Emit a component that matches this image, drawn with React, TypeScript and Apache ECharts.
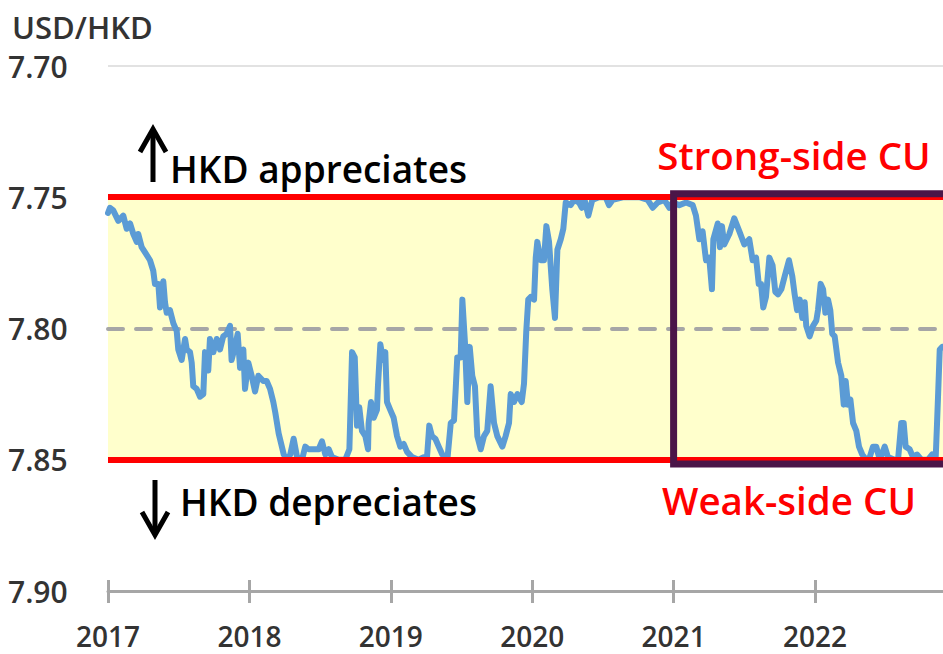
import React, { useEffect, useRef } from "react";
import * as echarts from "echarts";

// Time of each observation, in years since 1 Jan 2017
const yearsSince2017 = [
  0.000, 0.014, 0.037, 0.073, 0.108, 0.132, 0.156, 0.179, 0.203, 0.214,
  0.238, 0.262, 0.297, 0.320, 0.332, 0.356, 0.368, 0.391, 0.403, 0.415,
  0.438, 0.462, 0.486, 0.497, 0.521, 0.545, 0.557, 0.580, 0.592, 0.603,
  0.627, 0.651, 0.674, 0.686, 0.709, 0.721, 0.745, 0.769, 0.792, 0.815,
  0.839, 0.863, 0.874, 0.898, 0.917, 0.934, 0.957, 0.969, 0.992, 1.016,
  1.040, 1.063, 1.098, 1.122, 1.146, 1.169, 1.183, 1.207, 1.243, 1.266,
  1.289, 1.313, 1.337, 1.372, 1.395, 1.419, 1.455, 1.490, 1.513, 1.537,
  1.561, 1.584, 1.632, 1.678, 1.707, 1.726, 1.745, 1.761, 1.777, 1.796,
  1.820, 1.839, 1.843, 1.860, 1.879, 1.902, 1.909, 1.926, 1.945, 1.961,
  1.973, 1.996, 2.020, 2.044, 2.067, 2.091, 2.115, 2.150, 2.197, 2.233,
  2.256, 2.272, 2.291, 2.315, 2.339, 2.364, 2.400, 2.424, 2.447, 2.459,
  2.470, 2.494, 2.506, 2.525, 2.541, 2.558, 2.576, 2.595, 2.612, 2.636,
  2.659, 2.682, 2.706, 2.730, 2.753, 2.789, 2.812, 2.836, 2.848, 2.871,
  2.895, 2.926, 2.942, 2.958, 2.972, 2.989, 3.013, 3.025, 3.036, 3.060,
  3.083, 3.100, 3.119, 3.142, 3.161, 3.178, 3.202, 3.220, 3.237, 3.272,
  3.296, 3.331, 3.350, 3.366, 3.397, 3.425, 3.472, 3.520, 3.543, 3.569,
  3.640, 3.757, 3.817, 3.852, 3.888, 3.934, 3.970, 3.993, 4.040, 4.088,
  4.135, 4.158, 4.182, 4.205, 4.229, 4.252, 4.271, 4.281, 4.312, 4.328,
  4.342, 4.358, 4.394, 4.429, 4.465, 4.500, 4.535, 4.559, 4.583, 4.602,
  4.618, 4.634, 4.653, 4.677, 4.700, 4.719, 4.738, 4.762, 4.786, 4.816,
  4.839, 4.856, 4.873, 4.892, 4.910, 4.927, 4.938, 4.962, 4.986, 5.009,
  5.021, 5.040, 5.057, 5.073, 5.092, 5.108, 5.122, 5.139, 5.163, 5.186,
  5.203, 5.217, 5.233, 5.250, 5.269, 5.292, 5.311, 5.334, 5.363, 5.387,
  5.410, 5.433, 5.458, 5.493, 5.516, 5.564, 5.587, 5.610, 5.627, 5.641,
  5.669, 5.693, 5.721, 5.752, 5.799, 5.829, 5.853, 5.863, 5.872, 5.882,
  5.900,
];

// USD/HKD spot rate
const usdhkd = [
  7.756, 7.754, 7.755, 7.759, 7.757, 7.762, 7.760, 7.764, 7.767, 7.764,
  7.769, 7.771, 7.774, 7.778, 7.783, 7.783, 7.792, 7.782, 7.790, 7.794,
  7.793, 7.798, 7.801, 7.808, 7.812, 7.804, 7.808, 7.809, 7.813, 7.822,
  7.823, 7.826, 7.825, 7.809, 7.816, 7.804, 7.809, 7.804, 7.808, 7.803,
  7.802, 7.799, 7.812, 7.807, 7.802, 7.815, 7.808, 7.823, 7.813, 7.818,
  7.824, 7.818, 7.820, 7.820, 7.823, 7.828, 7.832, 7.840, 7.848, 7.850,
  7.848, 7.842, 7.849, 7.850, 7.845, 7.846, 7.846, 7.846, 7.843, 7.848,
  7.846, 7.849, 7.850, 7.850, 7.846, 7.809, 7.811, 7.837, 7.830, 7.839,
  7.841, 7.846, 7.836, 7.828, 7.834, 7.831, 7.822, 7.806, 7.812, 7.809,
  7.828, 7.831, 7.834, 7.841, 7.845, 7.844, 7.847, 7.849, 7.850, 7.849,
  7.849, 7.837, 7.841, 7.842, 7.845, 7.848, 7.850, 7.836, 7.835, 7.823,
  7.811, 7.811, 7.789, 7.806, 7.828, 7.807, 7.818, 7.822, 7.841, 7.846,
  7.841, 7.839, 7.822, 7.836, 7.841, 7.845, 7.841, 7.836, 7.825, 7.828,
  7.825, 7.828, 7.821, 7.801, 7.789, 7.788, 7.789, 7.773, 7.767, 7.774,
  7.774, 7.761, 7.767, 7.785, 7.796, 7.770, 7.766, 7.762, 7.752, 7.753,
  7.751, 7.752, 7.754, 7.750, 7.757, 7.751, 7.750, 7.750, 7.753, 7.751,
  7.750, 7.750, 7.751, 7.754, 7.752, 7.751, 7.754, 7.752, 7.753, 7.752,
  7.753, 7.757, 7.766, 7.763, 7.774, 7.773, 7.785, 7.766, 7.760, 7.769,
  7.761, 7.768, 7.764, 7.758, 7.763, 7.768, 7.766, 7.774, 7.773, 7.783,
  7.783, 7.792, 7.788, 7.773, 7.776, 7.786, 7.787, 7.785, 7.780, 7.774,
  7.780, 7.787, 7.793, 7.789, 7.796, 7.790, 7.799, 7.803, 7.799, 7.797,
  7.793, 7.783, 7.785, 7.794, 7.789, 7.793, 7.802, 7.803, 7.813, 7.818,
  7.829, 7.820, 7.829, 7.827, 7.836, 7.839, 7.845, 7.848, 7.850, 7.849,
  7.845, 7.845, 7.850, 7.845, 7.849, 7.850, 7.850, 7.836, 7.836, 7.845,
  7.846, 7.849, 7.848, 7.850, 7.850, 7.848, 7.850, 7.836, 7.823, 7.808,
  7.807,
];

const baseYear = 2017;
const lastLabelYear = 2022;
const xMaxYear = 2023.2;
const yMin = 7.7;
const yMax = 7.9;
const yStep = 0.05;
const strongSideCU = 7.75;
const weakSideCU = 7.85;
const midRate = 7.8;
const boxStartYear = 2021;
const boxTopRate = 7.7487;
const boxBottomRate = 7.8516;

const FONT = '"Open Sans", "Noto Sans", sans-serif';

export default function App() {
  const ref = useRef<HTMLDivElement>(null);

  useEffect(() => {
    if (!ref.current) return;
    const chart = echarts.init(ref.current, null, { renderer: "svg" });
    const data = yearsSince2017.map((d, i) => [baseYear + d, usdhkd[i]]);

    const xCommon = {
      type: "value" as const,
      min: baseYear,
      max: xMaxYear,
      interval: 1,
      position: "bottom" as const,
      splitLine: { show: false },
    };

    chart.setOption({
      animation: false,
      backgroundColor: "#ffffff",
      grid: { left: 108, top: 66, width: 876.7, height: 525, containLabel: false },
      xAxis: [
        {
          ...xCommon,
          axisLine: { show: true, onZero: false, lineStyle: { color: "#a6a6a6", width: 3 } },
          axisTick: { show: true, length: 12, lineStyle: { color: "#a6a6a6", width: 3 } },
          axisLabel: {
            show: true,
            margin: 45,
            verticalAlign: "middle",
            fontFamily: FONT,
            fontSize: 28,
            fontWeight: 600,
            color: "#333333",
            formatter: (v: number) =>
              Number.isInteger(v) && v <= lastLabelYear ? String(v) : "",
          },
        },
        {
          ...xCommon,
          axisLine: { show: false, onZero: false },
          axisTick: { show: true, inside: true, length: 11, lineStyle: { color: "#a6a6a6", width: 3 } },
          axisLabel: { show: false },
        },
      ],
      yAxis: {
        type: "value",
        inverse: true,
        min: yMin,
        max: yMax,
        interval: yStep,
        axisLine: { show: false },
        axisTick: { show: false },
        splitLine: { show: false },
        axisLabel: {
          margin: 100,
          align: "left",
          fontFamily: FONT,
          fontSize: 30,
          fontWeight: 600,
          color: "#333333",
          formatter: (v: number) => v.toFixed(2),
        },
      },
      series: [
        {
          type: "line",
          name: "band",
          data: [],
          silent: true,
          markArea: {
            silent: true,
            z: 1,
            itemStyle: { color: "#ffffcc" },
            data: [[{ yAxis: strongSideCU }, { yAxis: weakSideCU }]],
          },
          markLine: {
            silent: true,
            z: 1.5,
            symbol: "none",
            label: { show: false },
            data: [
              { yAxis: midRate, lineStyle: { color: "#a6a6a6", width: 4, type: [15, 13], cap: "round" } },
              { yAxis: yMin, lineStyle: { color: "#d9d9d9", width: 1.5, type: "solid" } },
            ],
          },
        },
        {
          type: "line",
          name: "USD/HKD",
          data,
          z: 2,
          showSymbol: false,
          symbol: "none",
          lineStyle: { color: "#5b9bd5", width: 6, join: "round", cap: "round" },
          itemStyle: { color: "#5b9bd5" },
        },
        {
          type: "line",
          name: "limits",
          data: [],
          silent: true,
          markLine: {
            silent: true,
            z: 5,
            symbol: "none",
            label: { show: false },
            lineStyle: { color: "#ff0000", width: 6, type: "solid" },
            data: [{ yAxis: strongSideCU }, { yAxis: weakSideCU }],
          },
        },
        {
          type: "line",
          name: "box",
          data: [],
          silent: true,
          markArea: {
            silent: true,
            z: 10,
            itemStyle: { color: "rgba(0,0,0,0)", borderColor: "#4a1548", borderWidth: 7 },
            data: [[{ coord: [boxStartYear, boxTopRate] }, { coord: [xMaxYear, boxBottomRate] }]],
          },
        },
      ],
      graphic: [
        {
          type: "text",
          x: 12,
          y: 27,
          style: { text: "USD/HKD", font: `600 31px ${FONT}`, fill: "#333333", align: "left", verticalAlign: "middle" },
        },
        {
          type: "text",
          x: 170,
          y: 168,
          style: { text: "HKD appreciates", font: `600 37px ${FONT}`, fill: "#000000", align: "left", verticalAlign: "middle" },
        },
        {
          type: "text",
          x: 180,
          y: 501,
          style: { text: "HKD depreciates", font: `600 37px ${FONT}`, fill: "#000000", align: "left", verticalAlign: "middle" },
        },
        {
          type: "text",
          x: 794,
          y: 155,
          style: { text: "Strong-side CU", font: `600 38.5px ${FONT}`, fill: "#ff0000", align: "center", verticalAlign: "middle" },
        },
        {
          type: "text",
          x: 789,
          y: 500,
          style: { text: "Weak-side CU", font: `600 38.5px ${FONT}`, fill: "#ff0000", align: "center", verticalAlign: "middle" },
        },
        {
          type: "line",
          shape: { x1: 153, y1: 182, x2: 153, y2: 130 },
          style: { stroke: "#000000", lineWidth: 5 },
        },
        {
          type: "polyline",
          shape: { points: [[140, 152], [153, 129], [166, 152]] },
          style: { stroke: "#000000", lineWidth: 5, fill: null, lineJoin: "miter" },
        },
        {
          type: "line",
          shape: { x1: 155, y1: 480, x2: 155, y2: 534 },
          style: { stroke: "#000000", lineWidth: 5 },
        },
        {
          type: "polyline",
          shape: { points: [[142, 512], [155, 535], [168, 512]] },
          style: { stroke: "#000000", lineWidth: 5, fill: null, lineJoin: "miter" },
        },
      ],
    });

    return () => chart.dispose();
  }, []);

  return (
    <div
      style={{
        position: "fixed",
        left: 0,
        top: 0,
        width: 943,
        height: 654,
        overflow: "hidden",
        background: "#ffffff",
      }}
    >
      <div ref={ref} style={{ width: 1000, height: 654 }} />
    </div>
  );
}
